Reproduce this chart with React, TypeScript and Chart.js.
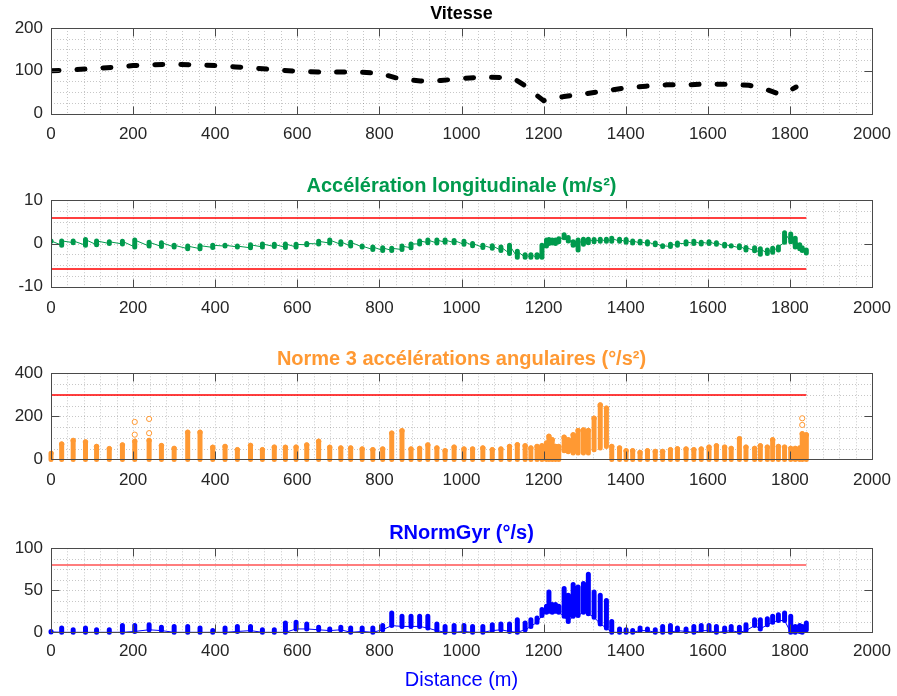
import React, { useEffect, useRef } from "react";
import { Chart, registerables } from "chart.js";

Chart.register(...registerables);

const FONT = "'Liberation Sans', Arial, Helvetica, sans-serif";
const TICK_COLOR = "#262626";

// ---- data ----
const X_MAJOR = [0, 200, 400, 600, 800, 1000, 1200, 1400, 1600, 1800, 2000];

const VIT_DIST = [0, 50, 100, 150, 200, 250, 300, 350, 400, 450, 500, 550, 600, 650, 700, 750, 800, 850, 900, 950, 1000, 1050, 1100, 1130, 1160, 1180, 1200, 1220, 1250, 1300, 1350, 1400, 1450, 1500, 1550, 1600, 1650, 1700, 1740, 1770, 1790, 1800, 1815];
const VIT = [100, 102, 105, 108, 112, 114, 115, 114, 112, 109, 106, 102, 99, 97, 97, 97, 94, 81, 76, 77, 82, 85, 84, 80, 62, 45, 30, 33, 40, 46, 53, 60, 64, 67, 67, 69, 68, 66, 57, 47, 48, 54, 62];

const DIST = [0, 26, 54, 84, 111, 142, 174, 204, 239, 269, 300, 333, 363, 394, 424, 454, 486, 515, 544, 571, 597, 623, 652, 679, 706, 730, 758, 784, 808, 830, 855, 877, 898, 918, 940, 960, 982, 1006, 1027, 1052, 1075, 1096, 1117, 1136, 1155, 1169, 1184, 1196, 1207, 1213, 1221, 1229, 1237, 1250, 1260, 1272, 1284, 1297, 1309, 1323, 1338, 1353, 1366, 1385, 1401, 1417, 1435, 1453, 1472, 1490, 1509, 1526, 1547, 1566, 1584, 1603, 1621, 1641, 1657, 1677, 1693, 1714, 1728, 1745, 1758, 1772, 1787, 1802, 1813, 1824, 1830, 1840];

const ACC_LO = [0.5, -0.4, 0.2, -0.4, -0.3, 0.0, -0.1, -0.8, -0.6, -0.7, -0.8, -1.2, -1.2, -0.9, -0.6, -0.8, -1.0, -0.8, -0.7, -0.9, -0.8, -0.3, -0.1, 0.1, -0.2, -0.6, -0.8, -1.4, -1.6, -1.6, -1.4, -1.0, -0.1, 0.2, 0.1, 0.3, 0.2, -0.2, -0.5, -0.9, -1.1, -1.6, -2.3, -3.2, -3.2, -3.2, -3.2, -3.2, -0.6, 0.0, 0.1, 0.0, 0.4, 1.3, 0.6, -0.4, -1.5, -0.2, 0.2, 0.4, 0.5, 0.5, 0.5, 0.5, 0.3, 0.1, 0.1, -0.1, -0.3, -0.7, -0.7, -0.4, -0.1, 0.0, -0.1, 0.0, -0.2, -0.6, -0.6, -1.0, -1.5, -1.7, -2.5, -2.3, -2.0, -1.5, 0.3, 0.4, -0.8, -1.2, -1.6, -2.2];
const ACC_HI = [0.6, 0.6, 0.6, 0.9, 0.6, 0.4, 0.5, 0.8, 0.3, 0.2, -0.4, -0.6, -0.5, -0.4, -0.4, -0.6, -0.3, -0.1, -0.2, -0.1, -0.2, 0.0, 0.5, 0.8, 0.4, 0.3, -0.6, -0.8, -1.0, -1.1, -0.6, -0.1, 0.6, 0.8, 0.8, 0.8, 0.7, 0.5, 0.0, -0.4, -0.5, -0.8, -0.4, -1.8, -2.6, -2.6, -2.6, -0.4, 0.8, 0.9, 0.8, 0.8, 1.1, 2.0, 1.4, 0.4, 0.8, 1.0, 1.0, 0.9, 1.0, 1.0, 1.2, 1.0, 0.9, 0.6, 0.5, 0.4, 0.1, -0.5, -0.2, 0.1, 0.4, 0.5, 0.3, 0.4, 0.2, -0.2, -0.5, -0.5, -0.9, -1.0, -1.2, -1.5, -1.1, -0.8, 2.5, 2.2, 1.2, -0.3, -1.0, -1.5];
const ACC_LIMITS = [6, -6];

const ANG_LO = [0, 0, 0, 0, 0, 0, 0, 0, 0, 0, 0, 0, 0, 0, 0, 0, 0, 0, 0, 0, 0, 0, 0, 0, 0, 0, 0, 0, 0, 0, 0, 0, 0, 0, 0, 0, 0, 0, 0, 0, 0, 0, 0, 0, 0, 0, 0, 0, 0, 0, 0, 0, 0, 40, 35, 30, 30, 30, 30, 45, 53, 60, 0, 0, 0, 0, 0, 0, 0, 0, 0, 0, 0, 0, 0, 0, 0, 0, 0, 0, 0, 0, 0, 0, 0, 0, 0, 0, 0, 0, 0, 0];
const ANG_HI = [29, 71, 88, 81, 60, 50, 67, 84, 88, 64, 51, 126, 126, 56, 60, 45, 65, 45, 57, 56, 57, 67, 84, 56, 53, 53, 48, 45, 48, 122, 133, 48, 51, 67, 53, 40, 57, 48, 48, 53, 45, 48, 60, 68, 63, 53, 60, 63, 76, 107, 91, 60, 60, 103, 91, 114, 134, 137, 134, 191, 253, 238, 60, 53, 40, 40, 32, 40, 37, 37, 45, 49, 48, 45, 48, 57, 63, 57, 51, 96, 57, 51, 63, 57, 91, 60, 57, 51, 51, 53, 119, 114];
const ANG_OUT_D = [204, 204, 239, 239, 1830, 1830];
const ANG_OUT = [115, 174, 122, 188, 191, 160];
const ANG_LIMITS = [300];

const GYR_LO = [0.5, 0, 0, 0, 0, 0, 0, 1, 3, 2, 0, 0, 0, 0, 0, 1, 2, 0, 0, 0, 4, 4, 3, 2, 3, 0, 1, 0, 3, 8, 7, 7, 7, 5, 2, 0, 0, 1, 0, 0, 2, 3, 1, 0, 3, 7, 12, 20, 24, 25, 24, 25, 24, 19, 13, 19, 20, 24, 22, 18, 10, 5, 0, 0, 0, 0, 2, 2, 0, 0, 0, 2, 1, 0, 2, 2, 0, 1, 2, 0, 2, 8, 4, 9, 12, 14, 14, 0, 0, 1, 0, 3];
const GYR_HI = [1, 5, 3, 5, 3, 3, 8, 8, 9, 6, 7, 7, 5, 2, 5, 7, 7, 3, 3, 11, 12, 10, 6, 4, 6, 5, 5, 5, 8, 23, 19, 19, 19, 19, 10, 7, 8, 8, 7, 7, 9, 10, 10, 15, 11, 15, 17, 27, 31, 48, 33, 33, 31, 52, 44, 57, 54, 58, 69, 48, 44, 38, 13, 4, 3, 2, 5, 4, 3, 7, 8, 5, 4, 7, 8, 8, 7, 5, 7, 6, 9, 15, 15, 16, 19, 21, 23, 19, 7, 8, 7, 11];
const GYR_LIMITS = [80];
const LIMIT_END = 1840;

// ---- helpers ----
const barPoints = (lo: number[], hi: number[]) =>
  DIST.flatMap((d, i) => [
    { x: d, y: lo[i] },
    { x: d, y: hi[i] },
    { x: d, y: null as any },
  ]);
const pathPoints = (lo: number[], hi: number[]) =>
  DIST.flatMap((d, i) => [
    { x: d, y: lo[i] },
    { x: d, y: hi[i] },
  ]);

const matlabAxes = {
  id: "matlabAxes",
  beforeDatasetsDraw(chart: any) {
    const { ctx, chartArea: a } = chart;
    const xs = chart.scales.x;
    const ys = chart.scales.y;
    ctx.save();
    ctx.lineWidth = 1;
    ctx.strokeStyle = "rgba(0,0,0,0.22)";
    ctx.setLineDash([1, 2]);
    ctx.beginPath();
    for (const t of xs.ticks) {
      const px = Math.round(xs.getPixelForValue(t.value)) + 0.5;
      if (px <= a.left + 1 || px >= a.right - 1) continue;
      ctx.moveTo(px, a.top);
      ctx.lineTo(px, a.bottom);
    }
    for (const t of ys.ticks) {
      const py = Math.round(ys.getPixelForValue(t.value)) + 0.5;
      if (py <= a.top + 1 || py >= a.bottom - 1) continue;
      ctx.moveTo(a.left, py);
      ctx.lineTo(a.right, py);
    }
    ctx.stroke();
    ctx.restore();
  },
  afterDatasetsDraw(chart: any, _args: any, opts: any) {
    const { ctx, chartArea: a } = chart;
    const xs = chart.scales.x;
    const ys = chart.scales.y;
    // threshold lines
    const limits: number[] = (opts && opts.limits) || [];
    if (limits.length) {
      ctx.save();
      ctx.setLineDash([]);
      ctx.lineWidth = opts.limitWidth || 1;
      ctx.strokeStyle = opts.limitColor || "#ff0000";
      ctx.beginPath();
      const x0 = xs.getPixelForValue(0);
      const x1 = xs.getPixelForValue(opts.limitEnd);
      for (const v of limits) {
        const py = Math.round(ys.getPixelForValue(v));
        ctx.moveTo(x0, py);
        ctx.lineTo(x1, py);
      }
      ctx.stroke();
      ctx.restore();
    }
    const L = Math.round(a.left) + 0.5;
    const R = Math.round(a.right) + 0.5;
    const T = Math.round(a.top) + 0.5;
    const B = Math.round(a.bottom) + 0.5;
    ctx.save();
    ctx.setLineDash([]);
    ctx.lineWidth = 1;
    ctx.strokeStyle = "#4a4a4a";
    ctx.beginPath();
    const tl = 8;
    for (const t of xs.ticks) {
      if (t.label === "" || t.label == null) continue;
      const px = Math.round(xs.getPixelForValue(t.value)) + 0.5;
      ctx.moveTo(px, B);
      ctx.lineTo(px, B - tl);
      ctx.moveTo(px, T);
      ctx.lineTo(px, T + tl);
    }
    for (const t of ys.ticks) {
      if (t.label === "" || t.label == null) continue;
      const py = Math.round(ys.getPixelForValue(t.value)) + 0.5;
      ctx.moveTo(L, py);
      ctx.lineTo(L + tl, py);
      ctx.moveTo(R, py);
      ctx.lineTo(R - tl, py);
    }
    ctx.stroke();
    ctx.strokeRect(L, T, R - L, B - T);
    ctx.restore();
  },
};

type Panel = {
  title: string;
  titleColor: string;
  titleSize: number;
  titleGap: number;
  padTop: number;
  plotBottom: number;
  yMin: number;
  yMax: number;
  yStep: number;
  yMajor: number;
  datasets: any[];
  limits: number[];
  limitColor: string;
  limitWidth: number;
  xTitle?: string;
};

const ORANGE = "#ff9933";
const GREEN = "#009a4d";
const BLUE = "#0000ff";
const RED = "#ff0000";

const PANELS: Panel[] = [
  {
    title: "Vitesse",
    titleColor: "#000000",
    titleSize: 18,
    titleGap: 2.7,
    padTop: 3.7,
    plotBottom: 113.5,
    yMin: 0,
    yMax: 200,
    yStep: 25,
    yMajor: 100,
    limits: [],
    limitColor: RED,
    limitWidth: 1,
    datasets: [
      {
        data: VIT_DIST.map((d, i) => ({ x: d, y: VIT[i] })),
        showLine: true,
        borderColor: "#000000",
        borderWidth: 5,
        borderDash: [8, 18],
        borderCapStyle: "round",
        pointRadius: 0,
      },
    ],
  },
  {
    title: "Accélération longitudinale (m/s²)",
    titleColor: GREEN,
    titleSize: 20,
    titleGap: 2.2,
    padTop: 174,
    plotBottom: 286.8,
    yMin: -10,
    yMax: 10,
    yStep: 2.5,
    yMajor: 10,
    limits: ACC_LIMITS,
    limitColor: RED,
    limitWidth: 1.5,
    datasets: [
      {
        data: barPoints(ACC_LO, ACC_HI),
        showLine: true,
        borderColor: GREEN,
        borderWidth: 5,
        borderCapStyle: "round",
        pointRadius: 0,
        order: 1,
      },
      {
        data: pathPoints(ACC_LO, ACC_HI),
        showLine: true,
        borderColor: GREEN,
        borderWidth: 1,
        pointRadius: 0,
        order: 2,
      },
    ],
  },
  {
    title: "Norme 3 accélérations angulaires (°/s²)",
    titleColor: ORANGE,
    titleSize: 20,
    titleGap: 1.6,
    padTop: 347.7,
    plotBottom: 459.4,
    yMin: 0,
    yMax: 400,
    yStep: 50,
    yMajor: 200,
    limits: ANG_LIMITS,
    limitColor: RED,
    limitWidth: 1.5,
    datasets: [
      {
        data: barPoints(ANG_LO, ANG_HI),
        showLine: true,
        borderColor: ORANGE,
        borderWidth: 5,
        borderCapStyle: "round",
        pointRadius: 0,
        clip: 4,
        order: 1,
      },
      {
        data: DIST.map((d, i) => ({ x: d, y: ANG_HI[i] })),
        showLine: false,
        pointRadius: 2.3,
        pointBorderWidth: 1,
        pointBorderColor: ORANGE,
        pointBackgroundColor: "#ffffff",
        order: 2,
      },
      {
        data: ANG_OUT_D.map((d, i) => ({ x: d, y: ANG_OUT[i] })),
        showLine: false,
        pointRadius: 2.6,
        pointBorderWidth: 1,
        pointBorderColor: ORANGE,
        pointBackgroundColor: "#ffffff",
        order: 0,
      },
    ],
  },
  {
    title: "RNormGyr (°/s)",
    titleColor: BLUE,
    titleSize: 20,
    titleGap: 2.6,
    padTop: 521.7,
    plotBottom: 632.3,
    yMin: 0,
    yMax: 100,
    yStep: 12.5,
    yMajor: 50,
    limits: GYR_LIMITS,
    limitColor: "rgba(255,70,70,0.7)",
    limitWidth: 2,
    xTitle: "Distance (m)",
    datasets: [
      {
        data: barPoints(GYR_LO, GYR_HI),
        showLine: true,
        borderColor: BLUE,
        borderWidth: 5,
        borderCapStyle: "round",
        pointRadius: 0,
        clip: 4,
        order: 1,
      },
      {
        data: DIST.map((d, i) => ({ x: d, y: GYR_LO[i] })),
        showLine: true,
        borderColor: BLUE,
        borderWidth: 1,
        pointRadius: 0,
        clip: 4,
        order: 2,
      },
    ],
  },
];

const CANVAS_W = 923;
const CANVAS_H = 696;
const X_AXIS_H = 40;
const PLOT_LEFT = 51;
const PLOT_RIGHT = 872;

function makeConfig(p: Panel): any {
  const isLast = !!p.xTitle;
  const axisH = isLast ? CANVAS_H - p.plotBottom : X_AXIS_H;
  const padBottom = isLast ? 0 : CANVAS_H - p.plotBottom - X_AXIS_H;
  return {
    type: "scatter",
    data: { datasets: p.datasets },
    plugins: [matlabAxes],
    options: {
      responsive: false,
      maintainAspectRatio: false,
      devicePixelRatio: 1,
      animation: false,
      events: [],
      layout: { padding: { top: p.padTop, bottom: padBottom, left: 0, right: 0 } },
      elements: { point: { radius: 0 } },
      plugins: {
        legend: { display: false },
        tooltip: { enabled: false },
        matlabAxes: {
          limits: p.limits,
          limitColor: p.limitColor,
          limitWidth: p.limitWidth,
          limitEnd: LIMIT_END,
        },
        title: {
          display: true,
          text: p.title,
          color: p.titleColor,
          font: { family: FONT, size: p.titleSize, weight: "bold", lineHeight: 1.2 },
          padding: { top: 0, bottom: p.titleGap },
        },
      },
      scales: {
        x: {
          type: "linear",
          min: 0,
          max: 2000,
          afterBuildTicks: (s: any) => {
            const t = [];
            for (let v = 0; v <= 2000; v += 40) t.push({ value: v });
            s.ticks = t;
          },
          ticks: {
            autoSkip: false,
            maxRotation: 0,
            padding: isLast ? 9 : 11,
            color: TICK_COLOR,
            font: { family: FONT, size: 17 },
            callback: (v: number) => (X_MAJOR.includes(v) ? String(v) : ""),
          },
          grid: { display: false, drawTicks: false },
          border: { display: false },
          afterFit: (s: any) => {
            s.height = axisH;
          },
          title: isLast
            ? {
                display: true,
                text: p.xTitle,
                color: BLUE,
                font: { family: FONT, size: 20, lineHeight: 1.2 },
                padding: { top: 0, bottom: 4 },
              }
            : { display: false },
        },
        y: {
          type: "linear",
          position: "left",
          min: p.yMin,
          max: p.yMax,
          afterBuildTicks: (s: any) => {
            const t = [];
            for (let v = p.yMin; v <= p.yMax + 1e-9; v += p.yStep) t.push({ value: v });
            s.ticks = t;
          },
          ticks: {
            autoSkip: false,
            padding: 8,
            color: TICK_COLOR,
            font: { family: FONT, size: 17 },
            callback: (v: number) => (Math.abs(v % p.yMajor) < 1e-9 ? String(v) : ""),
          },
          grid: { display: false, drawTicks: false },
          border: { display: false },
          afterFit: (s: any) => {
            s.width = PLOT_LEFT;
          },
        },
        yRight: {
          type: "linear",
          position: "right",
          display: true,
          min: p.yMin,
          max: p.yMax,
          ticks: { display: false },
          grid: { display: false, drawTicks: false },
          border: { display: false },
          afterFit: (s: any) => {
            s.width = CANVAS_W - PLOT_RIGHT;
          },
        },
      },
    },
  };
}

export default function App() {
  const canvases = useRef<(HTMLCanvasElement | null)[]>([]);
  useEffect(() => {
    const charts = PANELS.map((p, i) => new Chart(canvases.current[i] as HTMLCanvasElement, makeConfig(p)));
    return () => charts.forEach((c) => c.destroy());
  }, []);
  return (
    <div
      style={{
        position: "fixed",
        left: 0,
        top: 0,
        width: 897,
        height: 696,
        overflow: "hidden",
        background: "#ffffff",
      }}
    >
      {PANELS.map((p, i) => (
        <canvas
          key={i}
          ref={(el) => {
            canvases.current[i] = el;
          }}
          width={CANVAS_W}
          height={CANVAS_H}
          style={{ position: "absolute", left: 0, top: 0, width: CANVAS_W, height: CANVAS_H }}
        />
      ))}
    </div>
  );
}
